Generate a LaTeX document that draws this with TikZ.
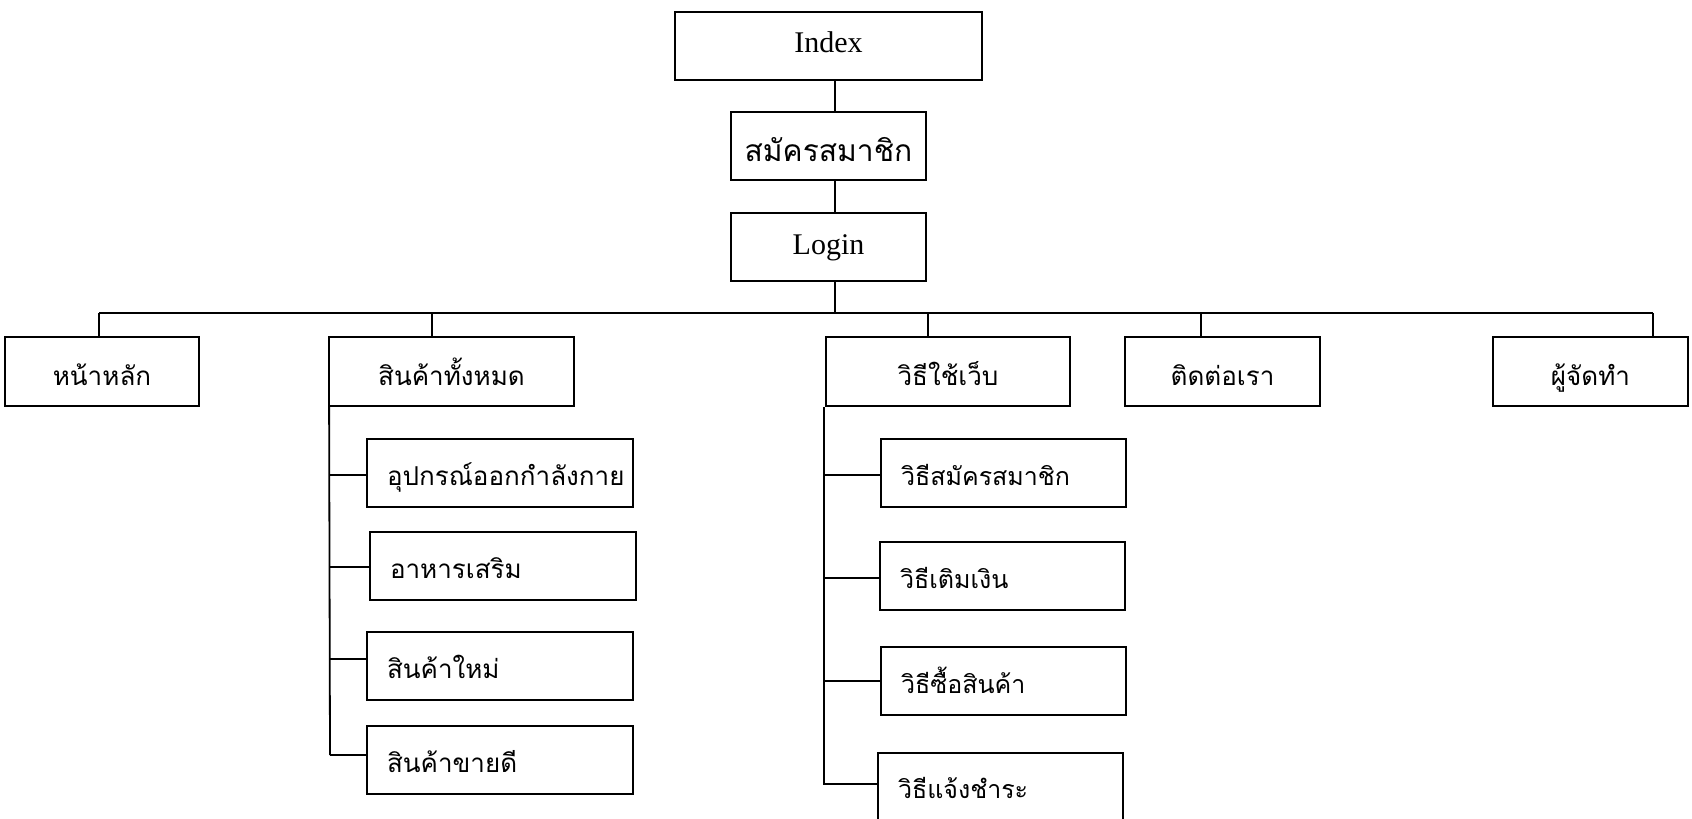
\documentclass[tikz,border=0pt]{standalone}
\usepackage{fontspec}
\setmainfont{Liberation Serif}
\newfontfamily\thai[Script=Thai]{Loma}
\begin{document}
\begin{tikzpicture}[x=0.5pt,y=-0.5pt,
  box/.style={draw,line width=0.9pt,inner sep=0pt,minimum height=34pt,text height=14pt,text depth=0pt,font=\thai\fontsize{13}{16}\selectfont},
  lat/.style={font=\fontsize{15}{18}\selectfont,text height=7pt,text depth=0pt},
  subl/.style={draw,line width=0.9pt,inner xsep=10pt,inner ysep=0pt,minimum height=34pt,text height=12pt,text depth=0pt,align=left,text width=113pt,font=\thai\fontsize{13}{16}\selectfont},
  subr/.style={draw,line width=0.9pt,inner xsep=10pt,inner ysep=0pt,minimum height=34pt,text height=12pt,text depth=0pt,align=left,text width=102.5pt,font=\thai\fontsize{12.5}{15}\selectfont},
  ln/.style={line width=0.9pt}]
\useasboundingbox (0,0) rectangle (1692,819);
% top chain
\node[box,lat,minimum width=153.5pt] (index) at (828.5,46) {Index};
\node[box,minimum width=97.5pt,text height=15pt,font=\thai\fontsize{15}{18}\selectfont] (member) at (828.5,146) {สมัครสมาชิก};
\node[box,lat,minimum width=97.5pt] (login) at (828.5,247) {Login};
% level 2
\node[box,minimum width=97pt,minimum height=34.5pt] (main) at (102,371.5) {หน้าหลัก};
\node[box,minimum width=122.5pt,minimum height=34.5pt] (allprod) at (451.5,371.5) {สินค้าทั้งหมด};
\node[box,minimum width=122pt,minimum height=34.5pt] (howto) at (948,371.5) {วิธีใช้เว็บ};
\node[box,minimum width=97.5pt,minimum height=34.5pt] (contact) at (1222.5,371.5) {ติดต่อเรา};
\node[box,minimum width=97.5pt,minimum height=34.5pt] (author) at (1590.5,371.5) {ผู้จัดทำ};
% left sub
\node[subl] (s1) at (500,473) {อุปกรณ์ออกกำลังกาย};
\node[subl] (s2) at (503,566) {อาหารเสริม};
\node[subl] (s3) at (500,666) {สินค้าใหม่};
\node[subl] (s4) at (500,760) {สินค้าขายดี};
% right sub
\node[subr] (r1) at (1003.5,473) {วิธีสมัครสมาชิก};
\node[subr] (r2) at (1002.5,576) {วิธีเติมเงิน};
\node[subr] (r3) at (1003.5,681) {วิธีซื้อสินค้า};
\node[subr,minimum height=38.5pt,text height=6.5pt] (r4) at (1000.5,791.5) {วิธีแจ้งชำระ};
% chain connectors
\draw[ln] ([xshift=3.25pt]index.south) -- ([xshift=3.25pt]member.north);
\draw[ln] ([xshift=3.25pt]member.south) -- ([xshift=3.25pt]login.north);
\coordinate (busL) at (99,313);
\coordinate (busR) at (1653,313);
\draw[ln] ([xshift=3.25pt]login.south) -- ([xshift=3.25pt]login.south |- busL);
\draw[ln] (busL) -- (busR);
\draw[ln] ([xshift=-1.5pt]main.north) -- ([xshift=-1.5pt]main.north |- busL);
\draw[ln] ([xshift=-9.75pt]allprod.north) -- ([xshift=-9.75pt]allprod.north |- busL);
\draw[ln] ([xshift=-10pt]howto.north) -- ([xshift=-10pt]howto.north |- busL);
\draw[ln] ([xshift=-10.75pt]contact.north) -- ([xshift=-10.75pt]contact.north |- busL);
\draw[ln] ([xshift=31.25pt]author.north) -- ([xshift=31.25pt]author.north |- busL);
% left branch
\coordinate (lt1) at (330,475);
\coordinate (lt2) at (330,567);
\coordinate (lt3) at (330,659);
\coordinate (lt4) at (330,755);
\draw[ln] ([xshift=0.5pt]allprod.south west) -- (lt4);
\draw[ln] (lt1) -- (lt1 -| s1.west);
\draw[ln] (lt2) -- (lt2 -| s2.west);
\draw[ln] (lt3) -- (lt3 -| s3.west);
\draw[ln] (lt4) -- (lt4 -| s4.west);
% right branch
\coordinate (rt1) at (823,475);
\coordinate (rt2) at (823,578);
\coordinate (rt3) at (823,681);
\coordinate (rt4) at (823,784);
\draw[ln] ([xshift=-0.5pt]howto.south west) -- ([xshift=-0.5pt]howto.south west |- rt4);
\draw[ln] (rt1) -- (rt1 -| r1.west);
\draw[ln] (rt2) -- (rt2 -| r2.west);
\draw[ln] (rt3) -- (rt3 -| r3.west);
\draw[ln] (rt4) -- (rt4 -| r4.west);
\end{tikzpicture}
\end{document}
